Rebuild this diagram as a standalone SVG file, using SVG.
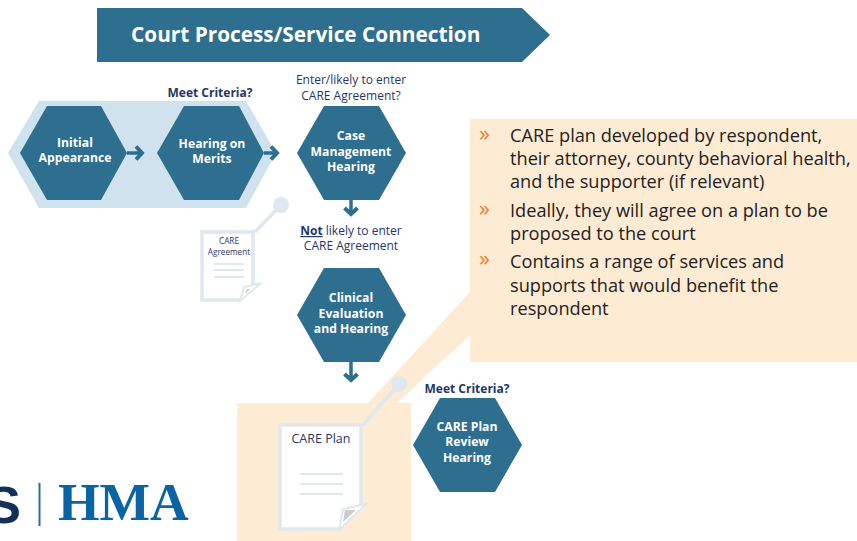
<svg xmlns="http://www.w3.org/2000/svg" width="857" height="541" viewBox="0 0 857 541">
<style>
text{font-family:"Open Sans","Noto Sans","Liberation Sans",sans-serif}
.hex{fill:#2e6e8e}
.hl{fill:#fff;font-weight:700;font-size:12.2px;text-anchor:middle}
.cap{fill:#1f3864;font-size:12px;text-anchor:middle}
.capb{fill:#1f3864;font-size:12px;text-anchor:middle;font-weight:700}
.body{fill:#222;font-size:18.2px}
.bul{fill:#ed7d31;font-size:22px}
.peach{fill:#feebd3}
.doc{fill:#fff;stroke:#dfe8ef;stroke-width:3.5}
.pl{fill:none;stroke:#dfe8ef;stroke-width:2}
.conn{fill:none;stroke:#2e6e8e;stroke-width:3.5}
</style>
<defs>
<marker id="ah" markerUnits="userSpaceOnUse" markerWidth="12" markerHeight="16" refX="9" refY="8" orient="auto"><path d="M2,1.500L8,8L2,14.500" fill="none" stroke="#2e6e8e" stroke-width="4"/></marker>
</defs>
<polygon class="hex" id="banner" points="97,8 522,8 550,35 522,62 97,62"/>
<text x="131" y="42" fill="#fff" font-size="20.800" font-weight="700">Court Process/Service Connection</text>
<polygon points="8,153 39,101 246,101 276,153 246,208 39,208" fill="#d0e2ee"/>
<polygon class="peach" points="237,403 368,403 470,292 470,119 857,119 857,362 470,362 470,335 397,403 411,403 411,541 237,541"/>
<g id="connectors">
<path class="conn" d="M127,153H143" marker-end="url(#ah)"/>
<path class="conn" d="M264,153H278" marker-end="url(#ah)"/>
<path class="conn" d="M351,200V215" marker-end="url(#ah)"/>
<path class="conn" d="M351,362V381" marker-end="url(#ah)"/>
</g>
<g id="initial-appearance"><polygon class="hex" points="20,153 47,106 101,106 127,153 101,200 47,200"/>
<text class="hl" x="75" y="147">Initial</text><text class="hl" x="75" y="162">Appearance</text></g>
<g id="hearing-on-merits"><polygon class="hex" points="157,153 184,106 239,106 264,153 239,200 184,200"/>
<text class="hl" x="212" y="148">Hearing on</text><text class="hl" x="212" y="163">Merits</text></g>
<g id="case-management"><polygon class="hex" points="297,153 324,106 379,106 406,153 379,200 324,200"/>
<text class="hl" x="351" y="140">Case</text><text class="hl" x="351" y="155.500">Management</text><text class="hl" x="351" y="171">Hearing</text></g>
<g id="clinical-evaluation"><polygon class="hex" points="297,315 324,268 379,268 406,315 379,362 324,362"/>
<text class="hl" x="351" y="302">Clinical</text><text class="hl" x="351" y="318">Evaluation</text><text class="hl" x="351" y="333">and Hearing</text></g>
<g id="care-plan-review"><polygon class="hex" points="413,445 440,398 495,398 522,445 495,492 440,492"/>
<text class="hl" x="467" y="431">CARE Plan</text><text class="hl" x="467" y="446">Review</text><text class="hl" x="467" y="462">Hearing</text></g>
<text class="capb" x="210" y="97">Meet Criteria?</text>
<text class="cap" x="351" y="84">Enter/likely to enter</text>
<text class="cap" x="351" y="100">CARE Agreement?</text>
<text class="cap" x="351" y="235"><tspan font-weight="700" text-decoration="underline">Not</tspan> likely to enter</text>
<text class="cap" x="351" y="250">CARE Agreement</text>
<text class="capb" x="467" y="393">Meet Criteria?</text>
<g id="care-agreement-doc">
<path d="M255,232L281,205" stroke="#dfe8ef" stroke-width="3.500"/>
<circle cx="281" cy="205" r="8" fill="#dfe8ef"/>
<path class="doc" d="M202,232H253V284L240,300H202Z"/>
<path d="M240,301L244,287L261,283Z" fill="#fff" stroke="#dfe8ef" stroke-width="2"/>
<path d="M245,294L247,289L250,289Z" fill="#ccc"/>
<text x="229" y="244" fill="#1f3864" font-size="8.200" text-anchor="middle">CARE</text>
<text x="229" y="255" fill="#1f3864" font-size="8.200" text-anchor="middle">Agreement</text>
<path class="pl" d="M214,264H244M214,270H244M214,277H244"/>
</g>
<g id="care-plan-doc">
<path d="M363,425L399,384" stroke="#dfe8ef" stroke-width="4"/>
<circle cx="399" cy="384" r="8" fill="#dfe8ef"/>
<path class="doc" d="M280,425H361V506L339,529H280Z"/>
<path d="M339,530L343,509L366,504Z" fill="#fff" stroke="#dfe8ef" stroke-width="2"/>
<path d="M343,522L345,510L356,510Z" fill="#ccc"/>
<text x="321" y="443" fill="#1f3864" font-size="12.500" text-anchor="middle">CARE Plan</text>
<path class="pl" d="M300,474H343M300,484H343M300,494H343"/>
</g>
<g id="bullets">
<text class="bul" x="479" y="141">»</text>
<text class="body" x="510" y="142">CARE plan developed by respondent,</text>
<text class="body" x="510" y="165">their attorney, county behavioral health,</text>
<text class="body" x="510" y="188">and the supporter (if relevant)</text>
<text class="bul" x="479" y="216">»</text>
<text class="body" x="510" y="217">Ideally, they will agree on a plan to be</text>
<text class="body" x="510" y="240">proposed to the court</text>
<text class="bul" x="479" y="266">»</text>
<text class="body" x="510" y="268">Contains a range of services and</text>
<text class="body" x="510" y="292">supports that would benefit the</text>
<text class="body" x="510" y="315">respondent</text>
</g>
<g id="logo">
<text x="21" y="523" style="font-family:'Liberation Sans',sans-serif" font-size="52" font-weight="700" fill="#14305a" text-anchor="end">S</text>
<rect x="38.500" y="483" width="2" height="43" fill="#2e6e8e"/>
<text x="58" y="520" style="font-family:'Liberation Serif',serif" font-size="53.500" font-weight="700" fill="#0a64a4">HMA</text>
</g>
</svg>
